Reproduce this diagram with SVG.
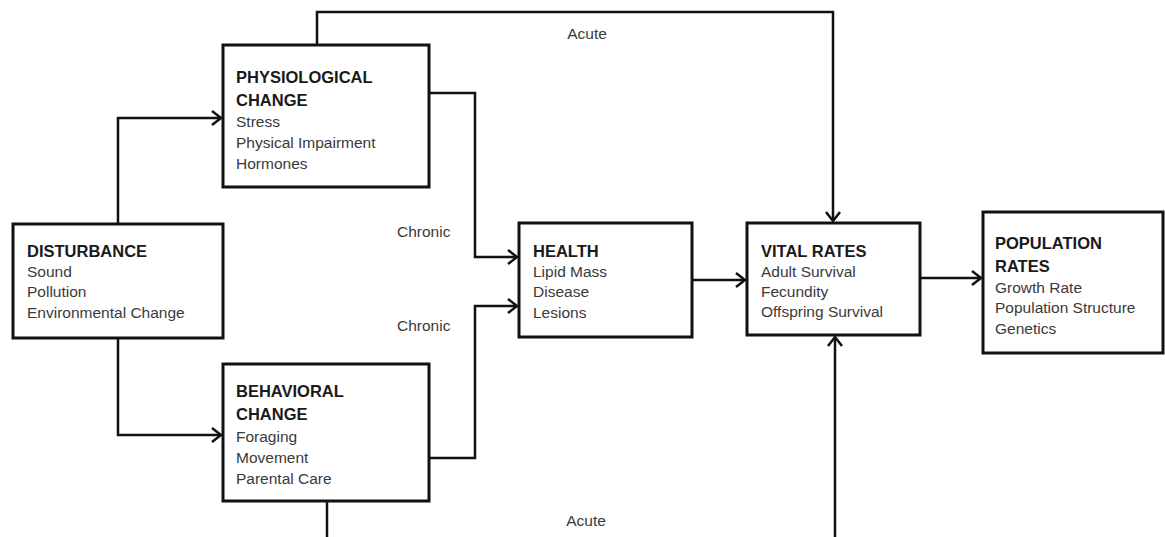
<svg xmlns="http://www.w3.org/2000/svg" width="1165" height="537" viewBox="0 0 1165 537">
<style>
.box{fill:#fff;stroke:#111;stroke-width:3}
.t{font-family:"Liberation Sans",Arial,sans-serif;font-size:16.5px;font-weight:bold;fill:#1a1a1a}
.s{font-family:"Liberation Sans",Arial,sans-serif;font-size:15.5px;fill:#3a3a3a}
.c{fill:none;stroke:#111;stroke-width:2.5}
.lbl{font-family:"Liberation Sans",Arial,sans-serif;font-size:15.5px;fill:#3a3a3a}
</style>
<defs>
<marker id="arr" markerUnits="userSpaceOnUse" markerWidth="14" markerHeight="18" refX="11" refY="8" orient="auto">
<path d="M2,1 L11,8 L2,15" fill="none" stroke="#111" stroke-width="2.5"/>
</marker>
</defs>
<rect width="1165" height="537" fill="#fff"/>
<g id="connectors">
<path class="c" d="M118 224 V118 H221" marker-end="url(#arr)"/>
<path class="c" d="M118 338 V435 H221" marker-end="url(#arr)"/>
<path class="c" d="M429 93 H475 V257 H517" marker-end="url(#arr)"/>
<path class="c" d="M429 458 H475 V306 H517" marker-end="url(#arr)"/>
<path class="c" d="M692 280 H745" marker-end="url(#arr)"/>
<path class="c" d="M920 278 H981" marker-end="url(#arr)"/>
<path class="c" d="M317 45 V12 H833 V221" marker-end="url(#arr)"/>
<path class="c" d="M327 501 V540"/>
<path class="c" d="M835 540 V337" marker-end="url(#arr)"/>
<text class="lbl" x="587" y="39" text-anchor="middle">Acute</text>
<text class="lbl" x="586" y="526" text-anchor="middle">Acute</text>
<text class="lbl" x="397" y="237">Chronic</text>
<text class="lbl" x="397" y="331">Chronic</text>
</g>
<g id="disturbance">
<rect class="box" x="13" y="224" width="210" height="114"/>
<text class="t" x="27" y="257">DISTURBANCE</text>
<text class="s" x="27" y="277">Sound</text>
<text class="s" x="27" y="297">Pollution</text>
<text class="s" x="27" y="318">Environmental Change</text>
</g>
<g id="physiological">
<rect class="box" x="223" y="45" width="206" height="142"/>
<text class="t" x="236" y="83">PHYSIOLOGICAL</text>
<text class="t" x="236" y="106">CHANGE</text>
<text class="s" x="236" y="127">Stress</text>
<text class="s" x="236" y="148">Physical Impairment</text>
<text class="s" x="236" y="169">Hormones</text>
</g>
<g id="behavioral">
<rect class="box" x="223" y="364" width="206" height="137"/>
<text class="t" x="236" y="397">BEHAVIORAL</text>
<text class="t" x="236" y="420">CHANGE</text>
<text class="s" x="236" y="442">Foraging</text>
<text class="s" x="236" y="463">Movement</text>
<text class="s" x="236" y="484">Parental Care</text>
</g>
<g id="health">
<rect class="box" x="519" y="223" width="173" height="114"/>
<text class="t" x="533" y="257">HEALTH</text>
<text class="s" x="533" y="277">Lipid Mass</text>
<text class="s" x="533" y="297">Disease</text>
<text class="s" x="533" y="318">Lesions</text>
</g>
<g id="vital-rates">
<rect class="box" x="747" y="223" width="173" height="112"/>
<text class="t" x="761" y="257">VITAL RATES</text>
<text class="s" x="761" y="277">Adult Survival</text>
<text class="s" x="761" y="297">Fecundity</text>
<text class="s" x="761" y="317">Offspring Survival</text>
</g>
<g id="population-rates">
<rect class="box" x="983" y="212" width="180" height="141"/>
<text class="t" x="995" y="249">POPULATION</text>
<text class="t" x="995" y="272">RATES</text>
<text class="s" x="995" y="293">Growth Rate</text>
<text class="s" x="995" y="313">Population Structure</text>
<text class="s" x="995" y="334">Genetics</text>
</g>
</svg>
